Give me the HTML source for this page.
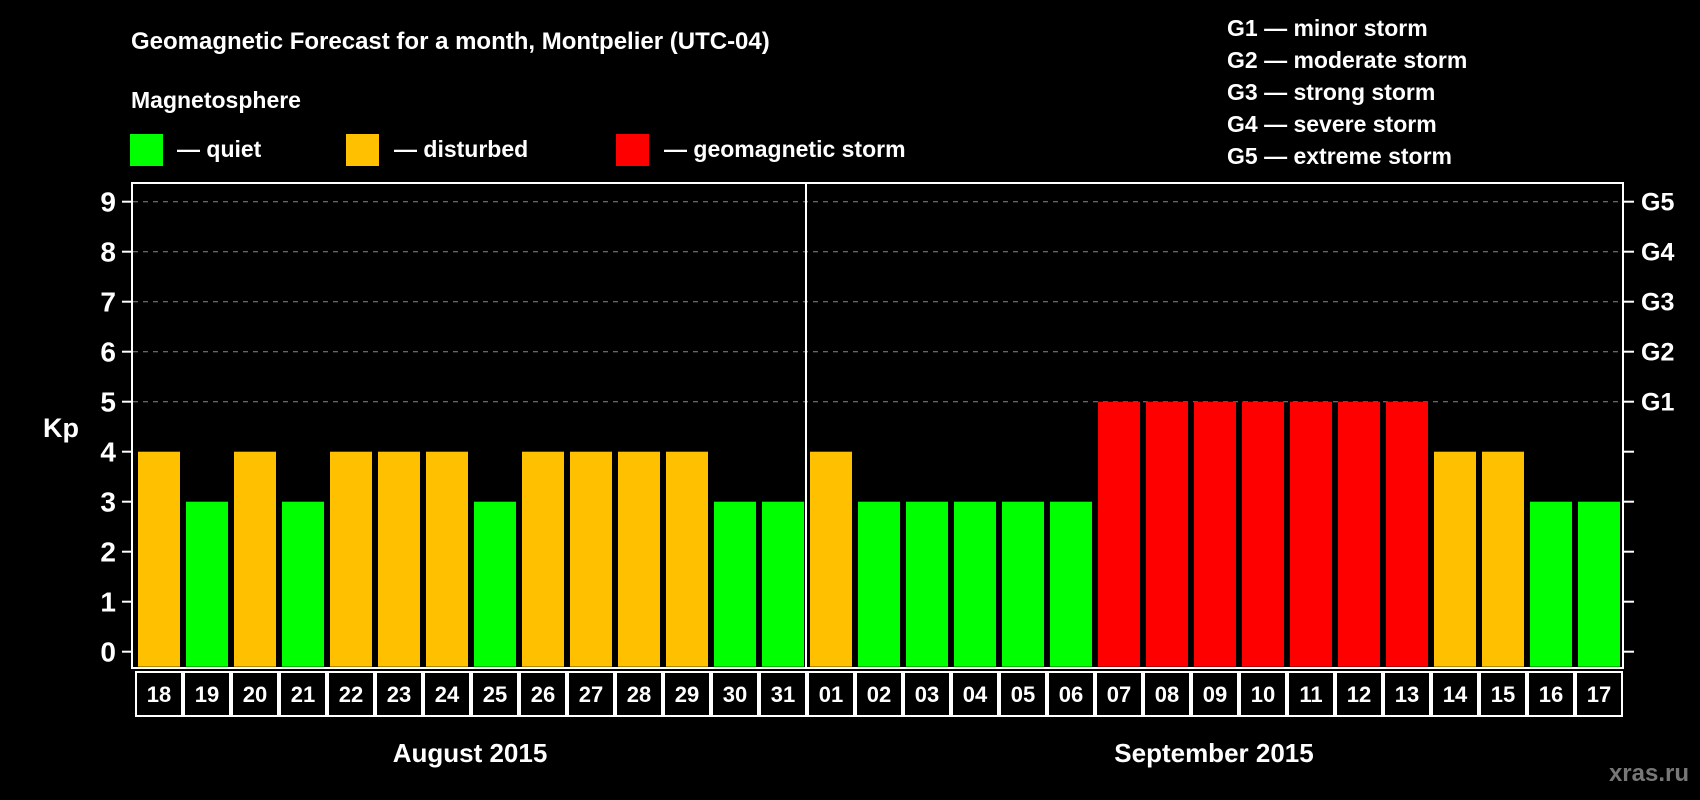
<!DOCTYPE html>
<html><head><meta charset="utf-8"><style>
html,body{margin:0;padding:0;background:#000;}
svg{display:block;font-family:"Liberation Sans",Arial,sans-serif;font-weight:bold;}
</style></head><body>
<svg id="chart" width="1700" height="800" viewBox="0 0 1700 800">
<rect x="0" y="0" width="1700" height="800" fill="#000"/>
<text x="131" y="49" fill="#fff" font-size="24">Geomagnetic Forecast for a month, Montpelier (UTC-04)</text>
<text x="131" y="108" fill="#fff" font-size="23">Magnetosphere</text>
<g><rect x="130" y="134" width="33" height="32" fill="#00ff00"/><text x="177" y="157" fill="#fff" font-size="23">— quiet</text></g>
<g><rect x="346" y="134" width="33" height="32" fill="#ffc000"/><text x="394" y="157" fill="#fff" font-size="23">— disturbed</text></g>
<g><rect x="616" y="134" width="33" height="32" fill="#ff0000"/><text x="664" y="157" fill="#fff" font-size="23">— geomagnetic storm</text></g>
<g fill="#fff" font-size="23">
<text x="1227" y="36">G1 — minor storm</text>
<text x="1227" y="68">G2 — moderate storm</text>
<text x="1227" y="100">G3 — strong storm</text>
<text x="1227" y="132">G4 — severe storm</text>
<text x="1227" y="164">G5 — extreme storm</text>
</g>
<text x="43" y="437" fill="#fff" font-size="27">Kp</text>
<g id="grid"></g>
<g id="bars"></g>
<rect x="132" y="183" width="1491" height="485" fill="none" stroke="#fff" stroke-width="2"/>
<line x1="806" y1="183" x2="806" y2="668" stroke="#fff" stroke-width="2"/>
<g id="axes"></g>
<g id="days"></g>
<text x="470" y="762" fill="#fff" font-size="26" text-anchor="middle">August 2015</text>
<text x="1214" y="762" fill="#fff" font-size="26" text-anchor="middle">September 2015</text>
<text x="1689" y="781" fill="#777" font-size="24" text-anchor="end">xras.ru</text>
</svg>
<script>
const days = ["18","19","20","21","22","23","24","25","26","27","28","29","30","31","01","02","03","04","05","06","07","08","09","10","11","12","13","14","15","16","17"];
const kpValues = [4,3,4,3,4,4,4,3,4,4,4,4,3,3,4,3,3,3,3,3,5,5,5,5,5,5,5,4,4,3,3];
const yTicks = [0,1,2,3,4,5,6,7,8,9];
const gLabels = ["G1","G2","G3","G4","G5"];
const gLevels = [5,6,7,8,9];

const NS="http://www.w3.org/2000/svg";
const y0=651.7, unit=50, x0=135, pitch=48, barW=42;
function yScale(v){return y0-v*unit;}
function xScale(i){return x0+i*pitch;}
function mk(tag,attrs,parent){const e=document.createElementNS(NS,tag);for(const k in attrs)e.setAttribute(k,attrs[k]);parent.appendChild(e);return e;}
function color(v){return v>=5?"#ff0000":(v>=4?"#ffc000":"#00ff00");}

const grid=document.getElementById('grid'), bars=document.getElementById('bars'), axes=document.getElementById('axes'), dayG=document.getElementById('days');
gLevels.forEach((lv,i)=>{
  const l=mk('line',{x1:133,x2:1622,y1:yScale(lv),y2:yScale(lv),stroke:"#888","stroke-width":1,"stroke-dasharray":"5,5"},grid);
  
  
  const t=mk('text',{x:1641,y:yScale(lv)+9,fill:"#fff","font-size":25},axes);
  t.textContent=gLabels[i];
  
  
});
yTicks.forEach(v=>{
  const l=mk('line',{x1:122,x2:132,y1:yScale(v),y2:yScale(v),stroke:"#fff","stroke-width":2},axes);
  
  
  const r=mk('line',{x1:1623,x2:1634,y1:yScale(v),y2:yScale(v),stroke:"#fff","stroke-width":2},axes);
  
  
  const t=mk('text',{x:116,y:yScale(v)+10,fill:"#fff","font-size":28,"text-anchor":"end"},axes);
  t.textContent=v;
  
  
});
kpValues.forEach((v,i)=>{
  const b=mk('rect',{x:xScale(i)+3,y:yScale(v),width:barW,height:y0-yScale(v)+15,fill:color(v)},bars);
  
  
});
days.forEach((d,i)=>{
  const r=mk('rect',{x:xScale(i)+1,y:672,width:pitch-2,height:44,fill:"none",stroke:"#fff","stroke-width":2},dayG);
  
  
  const t=mk('text',{x:xScale(i)+pitch/2,y:702,fill:"#fff","font-size":22,"text-anchor":"middle"},dayG);
  t.textContent=d;
  
  
});
</script>
</body></html>
